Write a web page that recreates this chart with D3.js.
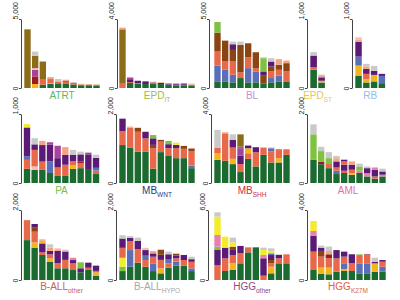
<!DOCTYPE html>
<html>
<head>
<meta charset="utf-8">
<script src="https://cdn.jsdelivr.net/npm/d3@7"></script>
<style>
  body { margin: 0; background: #fff; }
</style>
</head>
<body>
<div id="chart"></div>
<script>
// signature categories (stack pieces), bars are written bottom -> top as [key, value, key, value, ...]
const keys = ["G", "S", "P", "O", "B", "U", "L", "Y", "A", "K", "R", "D", "E", "M", "W"];
const keyColors = ["#1b6b31", "#e8694a", "#5a1a76", "#8c6c18", "#8b4513", "#5b6fb8", "#7ec242", "#f2ec2c",
  "#f2b51e", "#ea7fae", "#c9c9c9", "#9a1c22", "#f4a484", "#a8429a", "#f4bcbc"];

const atrt = [
  ["O", 4250],
  ["A", 290, "D", 550, "M", 480, "W", 120, "O", 890, "R", 310],
  ["G", 240, "S", 360, "O", 1320],
  ["G", 290, "A", 70, "S", 290, "E", 140],
  ["G", 290, "U", 60, "S", 130, "R", 170],
  ["G", 290, "S", 170, "D", 70, "E", 70],
  ["G", 250, "S", 80, "P", 50],
  ["G", 200, "S", 60, "E", 40],
  ["G", 200, "S", 50, "E", 40],
  ["G", 180, "S", 50, "E", 40]
];
const epdIt = [
  ["S", 290, "O", 3110, "E", 100],
  ["G", 290, "S", 50, "P", 170, "M", 100],
  ["G", 240, "S", 40, "P", 140],
  ["G", 230, "P", 155],
  ["G", 230, "S", 50, "P", 40, "E", 45],
  ["G", 230, "P", 60, "E", 40],
  ["G", 170, "U", 30, "P", 60, "E", 30],
  ["G", 160, "S", 30, "P", 60],
  ["G", 160, "U", 30, "P", 70],
  ["G", 150, "S", 40, "E", 60]
];
const bl = [
  ["G", 480, "U", 1150, "S", 1010, "B", 1370, "L", 770],
  ["G", 480, "U", 840, "S", 600, "B", 1510],
  ["G", 410, "U", 550, "S", 960, "B", 840, "P", 410, "R", 190],
  ["G", 720, "S", 410, "B", 1990, "R", 240],
  ["G", 410, "U", 1030, "S", 790, "B", 1010],
  ["G", 410, "U", 790, "S", 240, "B", 1150],
  ["G", 310, "B", 580, "P", 310, "L", 960, "R", 70],
  ["G", 410, "U", 310, "S", 480, "B", 360, "P", 360, "R", 240],
  ["G", 480, "U", 410, "S", 430, "B", 360, "E", 410],
  ["G", 480, "S", 720, "B", 600, "E", 190]
];
const epdSt = [
  ["G", 265, "S", 35, "P", 170, "R", 50],
  ["G", 80, "A", 25, "P", 40, "S", 25, "R", 25]
];
const rb = [
  ["G", 180, "A", 145, "U", 130, "P", 215, "E", 35, "W", 30],
  ["G", 80, "A", 50, "S", 75, "P", 70, "E", 40, "R", 35],
  ["G", 95, "A", 95, "P", 60, "R", 70],
  ["G", 70, "U", 105, "P", 30]
];
const pa = [
  ["G", 205, "S", 130, "U", 50, "P", 420, "Y", 50],
  ["G", 190, "W", 50, "S", 240, "P", 80, "R", 90],
  ["G", 190, "S", 120, "P", 240, "E", 60],
  ["G", 145, "U", 170, "P", 240, "M", 35],
  ["G", 110, "S", 115, "P", 135, "M", 180],
  ["G", 110, "S", 155, "P", 145, "E", 110],
  ["G", 205, "A", 50, "S", 60, "P", 95, "R", 70],
  ["G", 215, "S", 70, "D", 25, "P", 105, "R", 40],
  ["G", 190, "P", 225, "M", 25],
  ["G", 130, "S", 50, "U", 40, "P", 145, "R", 45]
];
const mbWnt = [
  ["G", 1100, "S", 400, "P", 365],
  ["G", 1030, "S", 575, "E", 30],
  ["G", 910, "S", 575, "B", 115],
  ["G", 910, "S", 385, "P", 190],
  ["G", 415, "S", 595, "B", 95, "P", 190, "L", 95],
  ["G", 895, "S", 305, "B", 50],
  ["G", 800, "S", 210, "P", 115, "L", 95],
  ["G", 720, "S", 290, "P", 95, "Y", 65],
  ["G", 720, "S", 270, "B", 85],
  ["G", 430, "U", 75, "S", 420, "B", 75]
];
const mbShh = [
  ["G", 1345, "A", 385, "S", 325, "R", 1020],
  ["G", 1285, "S", 1595, "E", 60],
  ["G", 1095, "A", 305, "S", 655, "P", 440, "R", 325],
  ["G", 635, "S", 460, "P", 500, "M", 420, "U", 95, "O", 710],
  ["G", 1400, "S", 325, "A", 290, "P", 155],
  ["G", 960, "S", 825, "P", 290],
  ["G", 1630, "S", 425],
  ["G", 1190, "S", 635, "U", 190, "E", 40],
  ["G", 1190, "A", 250, "S", 520],
  ["G", 1630, "S", 325]
];
const aml = [
  ["G", 670, "L", 740, "R", 290],
  ["G", 545, "D", 75, "L", 305, "R", 125],
  ["G", 430, "S", 145, "L", 145, "R", 175],
  ["G", 260, "U", 95, "S", 95, "P", 175, "E", 95, "R", 65],
  ["G", 290, "S", 65, "P", 175, "S", 95, "P", 50],
  ["G", 240, "A", 50, "S", 95, "P", 145, "E", 95],
  ["G", 290, "K", 65, "L", 125, "R", 80],
  ["G", 190, "K", 95, "P", 145, "R", 50],
  ["G", 125, "S", 65, "P", 190, "K", 70],
  ["G", 190, "K", 50, "P", 95, "R", 80]
];
const ballOther = [
  ["G", 1140, "S", 570],
  ["G", 925, "A", 150, "S", 305, "B", 115, "P", 105],
  ["G", 715, "S", 75, "P", 255, "A", 75, "E", 40],
  ["G", 525, "A", 95, "S", 115, "P", 95, "E", 95, "R", 95],
  ["G", 335, "S", 145, "P", 350, "E", 50, "W", 25],
  ["G", 335, "S", 240, "P", 240, "R", 50],
  ["G", 285, "S", 190, "P", 95, "K", 65],
  ["G", 220, "P", 115, "L", 170],
  ["G", 285, "S", 65, "P", 145],
  ["G", 125, "A", 95, "S", 40, "P", 150]
];
const ballHypo = [
  ["G", 255, "L", 125, "Y", 255, "S", 285, "P", 265, "R", 95],
  ["G", 380, "U", 475, "S", 255, "P", 95, "R", 50],
  ["G", 495, "S", 390, "P", 230, "R", 95],
  ["G", 380, "S", 190, "U", 125, "P", 160, "W", 65],
  ["G", 255, "U", 220, "S", 190, "P", 95, "E", 65],
  ["G", 190, "A", 145, "S", 240, "P", 145, "B", 145],
  ["G", 350, "S", 125, "U", 125, "P", 135, "R", 75],
  ["G", 410, "U", 115, "S", 95, "P", 75, "B", 50, "E", 20],
  ["G", 410, "S", 160, "P", 145],
  ["G", 255, "U", 75, "S", 190, "P", 75, "R", 70]
];
const hggOther = [
  ["S", 1285, "P", 1285, "L", 285, "K", 1000, "Y", 1575, "R", 370],
  ["G", 770, "S", 1085, "P", 915, "Y", 945],
  ["G", 860, "A", 570, "S", 715, "P", 430, "B", 285, "Y", 370, "R", 400],
  ["G", 1430, "S", 860, "P", 630],
  ["G", 2370, "S", 430],
  ["G", 2800],
  ["S", 370, "P", 1490, "K", 285, "Y", 430, "R", 200],
  ["G", 570, "A", 570, "S", 285, "B", 285, "P", 430, "U", 145, "Y", 200, "R", 230],
  ["G", 1430, "S", 430, "P", 285, "R", 55],
  ["G", 1430, "S", 770]
];
const hggK27m = [
  ["G", 570, "S", 1050, "P", 915, "K", 265, "Y", 570],
  ["G", 345, "A", 360, "S", 630, "B", 325, "P", 190, "R", 115],
  ["G", 325, "A", 380, "S", 535, "D", 230, "E", 190, "R", 250],
  ["G", 475, "S", 760, "P", 475],
  ["G", 515, "A", 115, "U", 325, "S", 380, "P", 285],
  ["G", 515, "S", 440, "P", 515],
  ["G", 380, "U", 570, "S", 475, "L", 40],
  ["G", 380, "U", 570, "S", 475, "D", 40],
  ["G", 475, "A", 475, "P", 95, "R", 230],
  ["G", 475, "U", 285, "S", 285, "P", 95]
];

const panelNames = ["ATRT", "EPD", "BL", "EPD", "RB", "PA", "MB", "MB", "AML", "B-ALL", "B-ALL", "HGG", "HGG"];
const panelSubs = ["", "IT", "", "ST", "", "", "WNT", "SHH", "", "other", "HYPO", "other", "K27M"];
const panelMax = [5000, 4000, 5000, 1000, 1000, 1000, 2000, 4000, 2000, 2000, 2000, 6000, 4000];
const panelData = [atrt, epdIt, bl, epdSt, rb, pa, mbWnt, mbShh, aml, ballOther, ballHypo, hggOther, hggK27m];

// layout only
const labelColors = ["#5cb860", "#a8b83a", "#c890c8", "#e8c848", "#90c0e8", "#78c048", "#2a3a80",
  "#c83048", "#e070a8", "#c86060", "#a8a8a8", "#904888", "#e06038"];
const rows = [
  { top: 19, zero: 88, labelY: 99 },
  { top: 114, zero: 183, labelY: 194 },
  { top: 210, zero: 280, labelY: 290 }
];
const place = [
  { row: 0, axisX: 21, barX: 24 }, { row: 0, axisX: 117, barX: 119 }, { row: 0, axisX: 209, barX: 214 },
  { row: 0, axisX: 307, barX: 310 }, { row: 0, axisX: 352, barX: 355 },
  { row: 1, axisX: 21, barX: 23.5 }, { row: 1, axisX: 116, barX: 119 }, { row: 1, axisX: 211, barX: 214 },
  { row: 1, axisX: 307, barX: 310 },
  { row: 2, axisX: 21, barX: 23.5 }, { row: 2, axisX: 116, barX: 119 }, { row: 2, axisX: 208, barX: 214 },
  { row: 2, axisX: 307, barX: 310 }
];
const step = 7.6;

const color = d3.scaleOrdinal().domain(keys).range(keyColors);

const svg = d3.select("#chart")
  .append("svg")
  .attr("width", 400)
  .attr("height", 300)
  .style("font-family", "'Liberation Sans', Arial, sans-serif");

panelData.forEach((bars, i) => {
  const p = place[i];
  const r = rows[p.row];

  const x = d3.scaleBand()
    .domain(d3.range(bars.length))
    .range([p.barX, p.barX + bars.length * step])
    .paddingInner(0.17)
    .paddingOuter(0.04);

  const y = d3.scaleLinear()
    .domain([0, panelMax[i]])
    .range([r.zero, r.top]);

  const g = svg.append("g");

  // stack each bar's pieces bottom -> top
  bars.forEach((bar, j) => {
    let acc = 0;
    const pieces = [];
    for (let k = 0; k < bar.length; k += 2) {
      pieces.push({ key: bar[k], y0: acc, y1: acc + bar[k + 1] });
      acc += bar[k + 1];
    }
    g.append("g")
      .selectAll("rect")
      .data(pieces)
      .join("rect")
      .attr("x", x(j))
      .attr("width", x.bandwidth())
      .attr("y", (d) => y(d.y1))
      .attr("height", (d) => y(d.y0) - y(d.y1))
      .attr("fill", (d) => color(d.key));
  });

  const axis = g.append("g")
    .attr("transform", `translate(${p.axisX},0)`)
    .call(d3.axisLeft(y).tickValues([0, panelMax[i]]).tickSize(2).tickSizeOuter(0).tickFormat(d3.format(",")));

  axis.select(".domain").attr("stroke", "#444");
  axis.selectAll(".tick line").attr("stroke", "#444");
  axis.selectAll(".tick text")
    .attr("x", null)
    .attr("dy", null)
    .attr("fill", "#222")
    .attr("font-size", 7)
    .attr("font-family", "'Liberation Sans', Arial, sans-serif")
    .attr("transform", "translate(-3,0) rotate(-90)")
    .attr("text-anchor", (d) => (d === 0 ? "middle" : "start"));

  const mid = p.barX + (bars.length * step) / 2;
  const label = g.append("text")
    .attr("x", mid)
    .attr("y", r.labelY)
    .attr("text-anchor", "middle")
    .attr("font-size", 10)
    .attr("fill", labelColors[i]);
  label.append("tspan").text(panelNames[i]);
  if (panelSubs[i]) {
    label.append("tspan")
      .attr("dy", 3)
      .attr("font-size", 6.5)
      .text(panelSubs[i]);
  }
});
</script>
</body>
</html>
